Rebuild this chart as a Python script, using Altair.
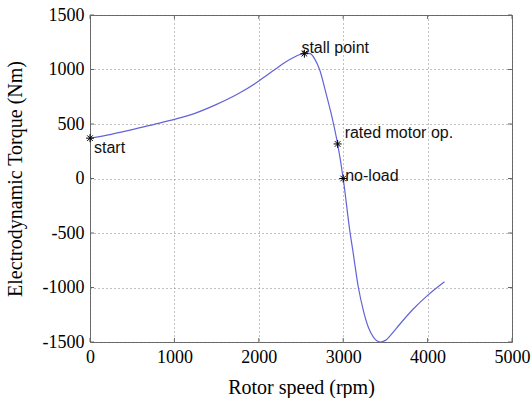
import altair as alt
import pandas as pd

# curve data
rpm = [0, 250, 500, 750, 1000, 1250, 1500, 1750, 2000, 2100, 2200, 2300, 2400, 2480, 2560, 2610,
       2660, 2720, 2800, 2880, 2934, 3000, 3080, 3112, 3180, 3240, 3300, 3360, 3437, 3500,
       3560, 3640, 3830, 4000, 4200]
torque = [370, 405, 448, 495, 543, 600, 680, 775, 894, 950, 1005, 1060, 1105, 1135, 1150, 1145,
          1100, 1000, 770, 520, 317, 0, -490, -651, -1000, -1215, -1370, -1458, -1500, -1485,
          -1440, -1365, -1197, -1072, -947]

# annotated points
pt_rpm = [0, 2540, 2934, 3000]
pt_torque = [370, 1145, 317, 0]
pt_label = ["start", "stall point", "rated motor op.", "no-load"]
pt_dx = [4, -3, 7, 2]
pt_dy = [10, -6, -11, -3]

xticks = [0, 1000, 2000, 3000, 4000, 5000]
yticks = [-1500, -1000, -500, 0, 500, 1000, 1500]

W, H = 422, 327

curve = pd.DataFrame({"rpm": rpm, "torque": torque})
pts = pd.DataFrame({"rpm": pt_rpm, "torque": pt_torque, "label": pt_label})

xscale = alt.Scale(domain=[0, 5000], nice=False, zero=False)
yscale = alt.Scale(domain=[-1500, 1500], nice=False, zero=False)

serif = "Liberation Serif"

xaxis = alt.Axis(values=xticks, title="Rotor speed (rpm)", grid=True, gridDash=[1, 3],
                 gridColor="#777777", gridOpacity=0.9, tickSize=0, domain=False,
                 labelExpr="datum.value + ''",
                 labelFont=serif, labelFontSize=18, labelColor="black", labelPadding=6,
                 titleFont=serif, titleFontSize=20, titleFontWeight="normal", titleColor="black",
                 titleY=45, titleBaseline="middle", labelFlush=False)
yaxis = alt.Axis(values=yticks, title="Electrodynamic Torque (Nm)", grid=True, gridDash=[1, 3],
                 gridColor="#777777", gridOpacity=0.9, tickSize=0, domain=False,
                 labelExpr="datum.value + ''",
                 labelFont=serif, labelFontSize=18, labelColor="black", labelPadding=6,
                 titleFont=serif, titleFontSize=20, titleFontWeight="normal", titleColor="black",
                 titleX=-75, titleBaseline="middle", labelFlush=False)

line = alt.Chart(curve).mark_line(color="#6363d8", strokeWidth=1.2, interpolate="monotone").encode(
    x=alt.X("rpm:Q", scale=xscale, axis=xaxis),
    y=alt.Y("torque:Q", scale=yscale, axis=yaxis),
)

star = "M-1,0L1,0M0,-1L0,1M-0.7,-0.7L0.7,0.7M-0.7,0.7L0.7,-0.7"
markers = alt.Chart(pts).mark_point(shape=star, size=64, filled=False, color="black",
                                    strokeWidth=1, opacity=1).encode(
    x=alt.X("rpm:Q", scale=xscale), y=alt.Y("torque:Q", scale=yscale))

texts = []
for i in range(len(pt_label)):
    t = alt.Chart(pts.iloc[[i]]).mark_text(
        align="left", baseline="middle", dx=pt_dx[i], dy=pt_dy[i],
        font="Liberation Sans", fontSize=16, color="#111111").encode(
        x=alt.X("rpm:Q", scale=xscale), y=alt.Y("torque:Q", scale=yscale), text="label:N")
    texts.append(t)

# inward ticks (MATLAB style)
xt = pd.DataFrame({"v": xticks})
yt = pd.DataFrame({"v": yticks})
tk = dict(color="#666666", strokeWidth=1)
xb = alt.Chart(xt).mark_rule(**tk).encode(x=alt.X("v:Q", scale=xscale), y=alt.value(H), y2=alt.value(H - 4))
xtop = alt.Chart(xt).mark_rule(**tk).encode(x=alt.X("v:Q", scale=xscale), y=alt.value(0), y2=alt.value(4))
yl = alt.Chart(yt).mark_rule(**tk).encode(y=alt.Y("v:Q", scale=yscale), x=alt.value(0), x2=alt.value(4))
yr = alt.Chart(yt).mark_rule(**tk).encode(y=alt.Y("v:Q", scale=yscale), x=alt.value(W), x2=alt.value(W - 4))

chart = alt.layer(xb, xtop, yl, yr, line, markers, *texts).properties(
    width=W, height=H,
    autosize=alt.AutoSizeParams(type="none"),
    padding={"left": 90, "top": 15, "right": 19, "bottom": 56},
    background="white",
).configure_view(stroke="#666666", strokeWidth=1)

chart.save("out.html", embed_options={"renderer": "svg", "actions": False})
